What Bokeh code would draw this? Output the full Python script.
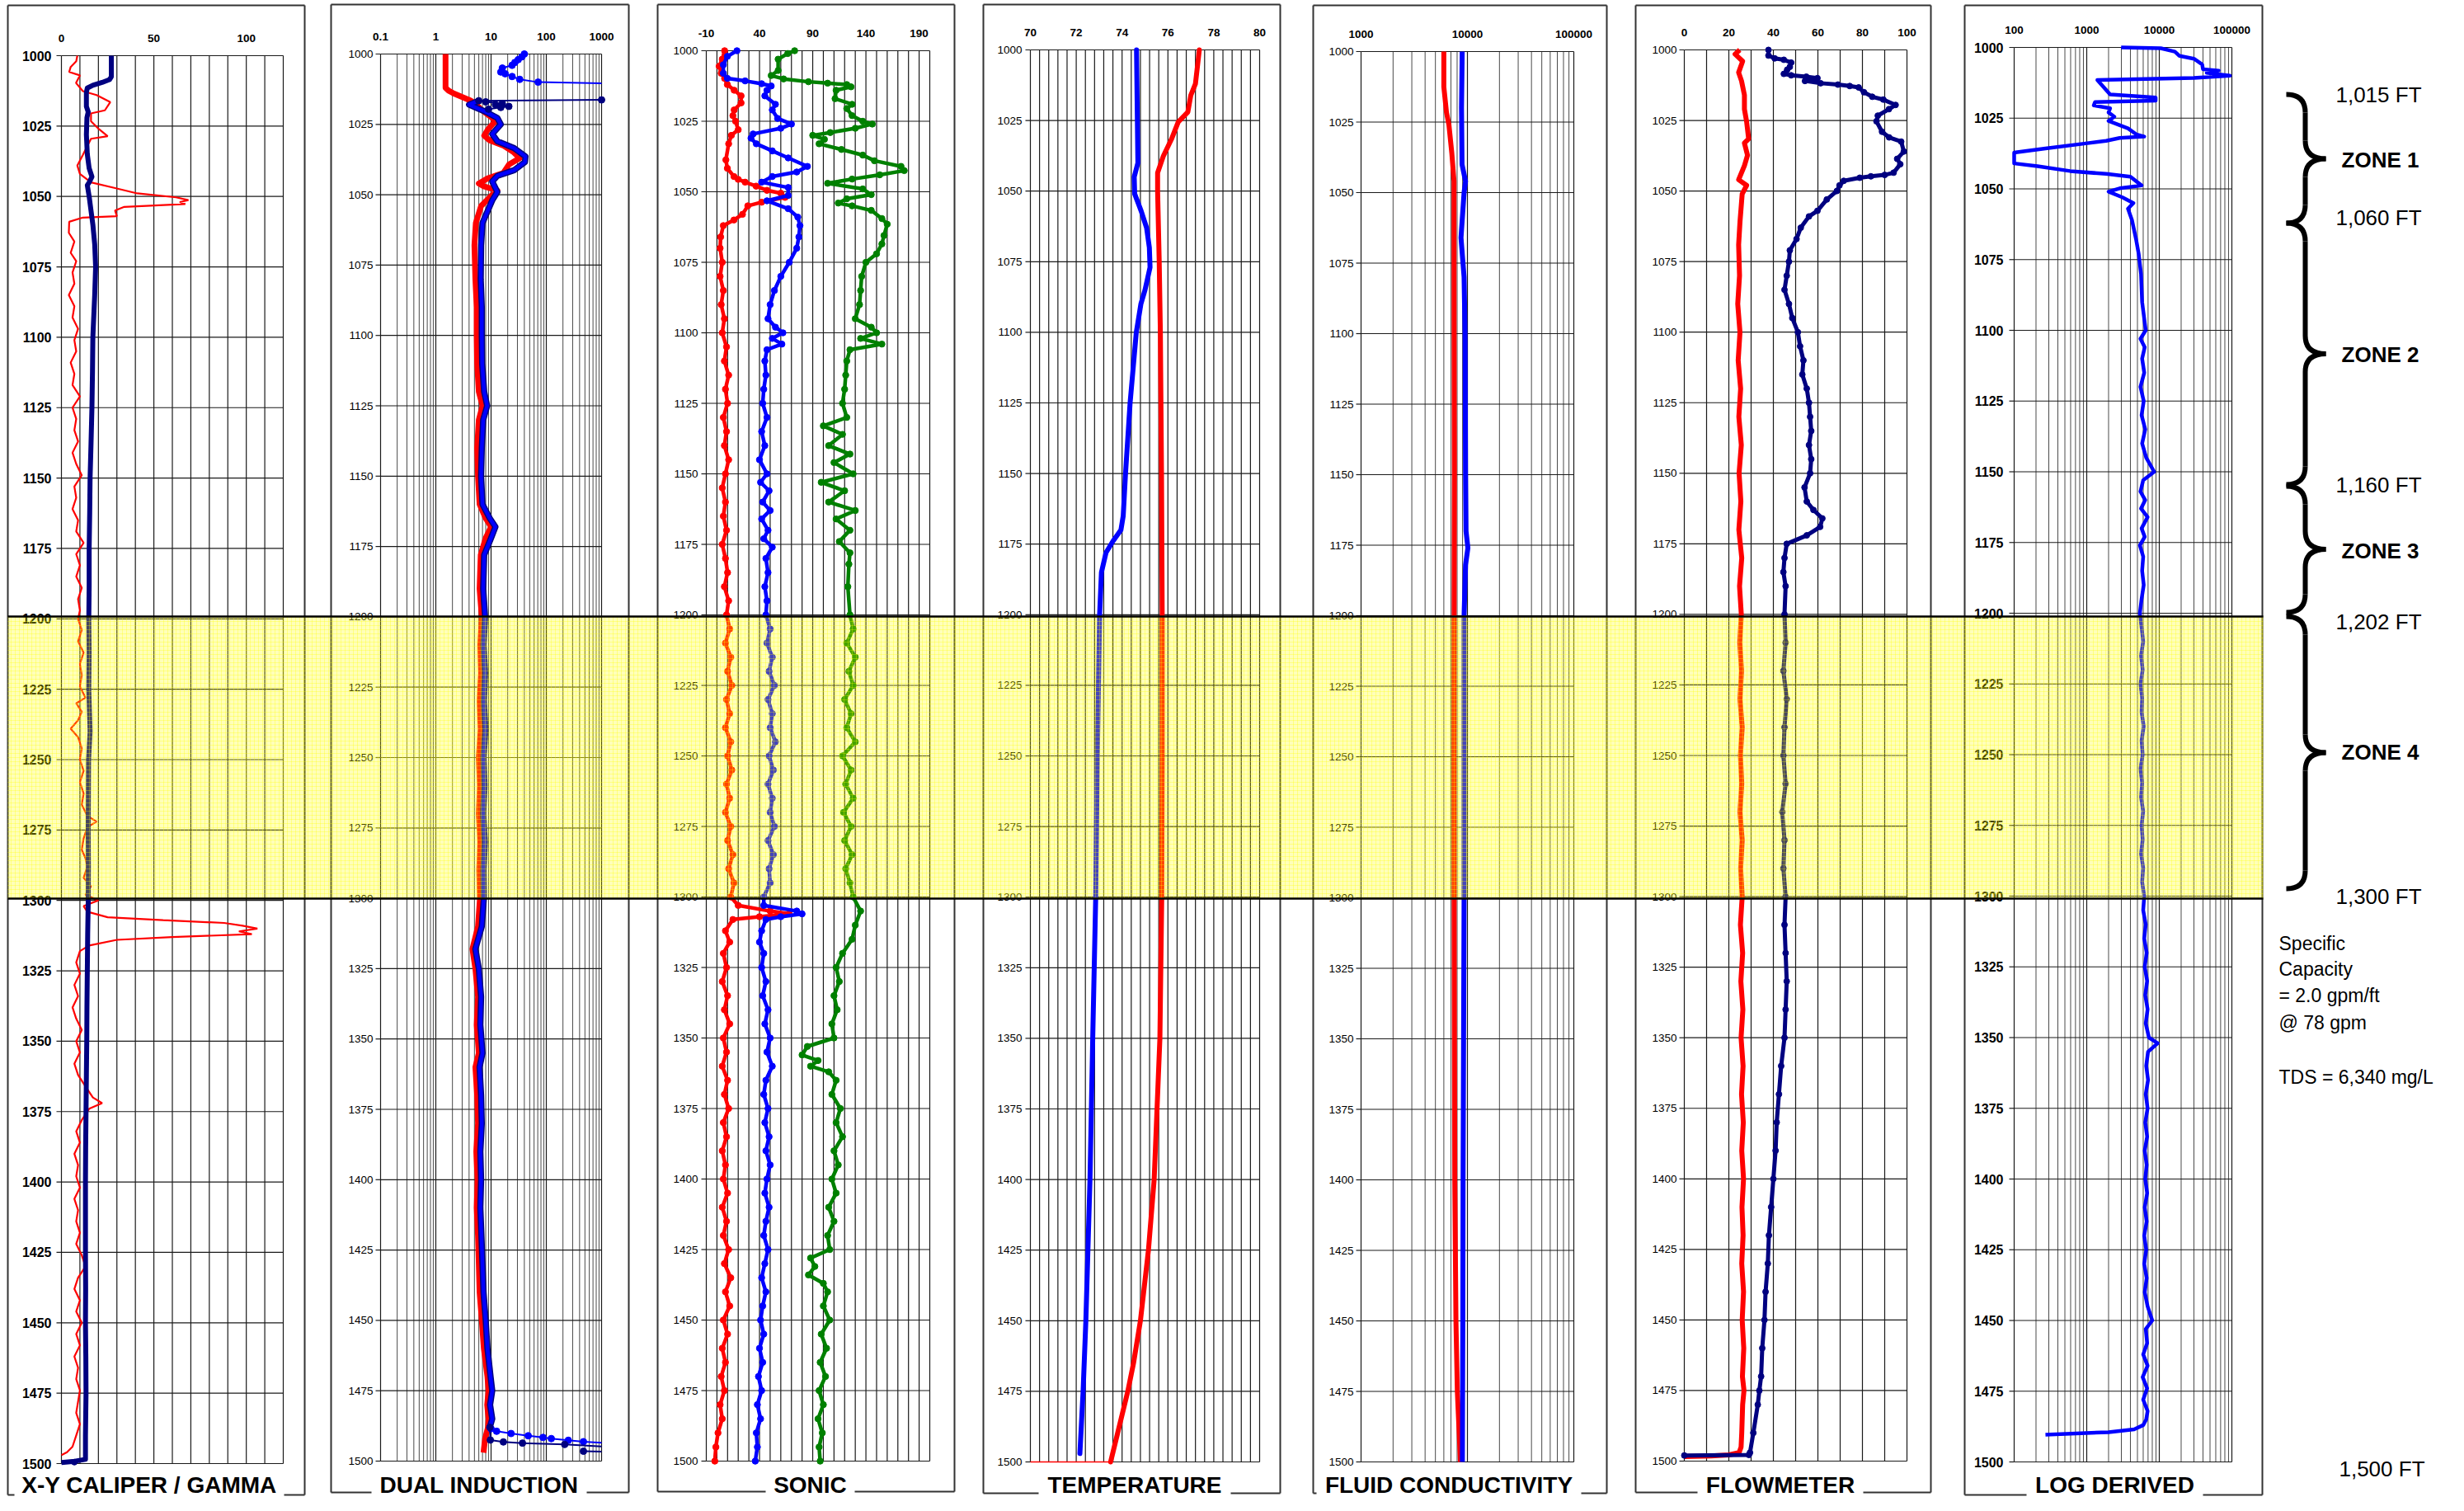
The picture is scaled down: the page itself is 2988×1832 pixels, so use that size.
import math
from bokeh.plotting import figure
from bokeh.models import Range1d, LinearScale
from bokeh.core.properties import value
from bokeh.embed import file_html
from bokeh.resources import INLINE

# ------------------------------------------------------------------ data
depth_ticks = list(range(1000, 1501, 25))
depth_tick_labels = [str(d) for d in depth_ticks]

track_titles = ["X-Y CALIPER / GAMMA", "DUAL INDUCTION", "SONIC", "TEMPERATURE",
                "FLUID CONDUCTIVITY", "FLOWMETER", "LOG DERIVED"]

cal_ticks = [0, 50, 100]
cal_tick_labels = ["0", "50", "100"]
ind_ticks = [0.1, 1, 10, 100, 1000]
ind_tick_labels = ["0.1", "1", "10", "100", "1000"]
son_ticks = [-10, 40, 90, 140, 190]
son_tick_labels = ["-10", "40", "90", "140", "190"]
tmp_ticks = [70, 72, 74, 76, 78, 80]
tmp_tick_labels = ["70", "72", "74", "76", "78", "80"]
fc_ticks = [1000, 10000, 100000]
fc_tick_labels = ["1000", "10000", "100000"]
flw_ticks = [0, 20, 40, 60, 80, 100]
flw_tick_labels = ["0", "20", "40", "60", "80", "100"]
ld_ticks = [100, 1000, 10000, 100000]
ld_tick_labels = ["100", "1000", "10000", "100000"]

# (depth ft, value) pairs
caliper = [(1000,27),(1007.5,27),(1008.5,26),(1009.5,22),(1010.5,17),(1011.5,14),(1013,13.5),(1018,13.5),
           (1020,14.5),(1022,13.8),(1028,13.5),(1035,14),(1040,15),(1043,16.5),(1045,15),(1046,14),(1050,15),
           (1055,16),(1060,17),(1067,18),(1075,18.5),(1085,18),(1100,17),(1112,16.8),(1125,16.5),(1138,16),
           (1150,15.5),(1162,15.3),(1175,15),(1188,15),(1200,14.8),(1212,15),(1225,14.8),(1240,15.5),(1250,14.7),
           (1262,14.6),(1275,14.5),(1288,14.6),(1300,14.5),(1312,14.2),(1325,14),(1338,13.8),(1350,13.7),
           (1362,13.5),(1375,13.3),(1388,13.1),(1400,13),(1412,13),(1425,13),(1438,13.1),(1450,13),(1462,13.2),
           (1475,13.3),(1490,13),(1498.5,13),(1499.3,6),(1499.6,0)]
gamma = [(1000,8.6),(1002,8),(1004,5),(1005.8,4.2),(1007,10),(1009.7,7.9),(1012.6,11.6),(1014,19),(1016.5,26.4),
         (1019.4,23.5),(1020.5,16),(1023.3,16),(1026.2,20.5),(1028.6,25),(1029.5,16),(1035.2,11.6),(1039,8.6),
         (1042,10),(1045,16),(1047,29),(1048.9,41),(1050.3,62),(1051.3,68.7),(1052,64),(1052.7,67),(1053.7,34),
         (1055,29),(1057,30),(1057.5,11.6),(1059,4.2),(1062.9,4),(1066,7),(1070,5),(1073,8),(1077,6),(1081,7),
         (1085,4),(1089,7),(1093,6),(1097,9),(1101,7),(1105,8),(1109,5),(1113,7),(1117,6),(1121,10),(1125,6),
         (1129,8),(1133,7),(1137,9),(1141,6),(1145,8),(1149,11),(1153,7),(1157,8),(1161,6),(1165,9),(1169,8),
         (1173,12),(1177,8),(1181,10),(1185,8),(1189,11),(1193,9),(1197,10),(1200,9),(1204,11),(1208,9),(1212,12),
         (1216,10),(1220,11),(1224,10),(1228,13),(1230,8),(1233,11),(1236,9),(1239,5),(1242,9),(1246,11),(1250,10),
         (1254,12),(1258,10),(1262,12),(1266,11),(1270,14),(1272,19),(1274,14),(1278,12),(1282,11),(1285,13),
         (1288,14),(1292,12),(1295,16),(1298,13),(1300,20),(1302,12),(1304,14),(1306,25),(1307,55),(1308,88),
         (1309,98),(1310,106),(1311,96),(1312,103),(1313,60),(1314,30),(1316,15),(1318,10),(1322,8),(1326,10),
         (1330,7),(1334,9),(1338,6),(1342,8),(1346,11),(1350,8),(1354,10),(1358,7),(1362,9),(1366,13),(1370,17),
         (1372,22),(1374,15),(1378,11),(1382,8),(1386,10),(1390,7),(1394,9),(1398,8),(1402,10),(1406,7),(1410,9),
         (1414,8),(1418,10),(1422,8),(1426,11),(1430,13),(1434,9),(1438,7),(1442,10),(1446,8),(1450,11),(1454,8),
         (1458,10),(1462,7),(1466,9),(1470,8),(1474,10),(1478,9),(1482,8),(1486,10),(1490,8),(1494,6),(1496,3),
         (1497,0)]

ind_deep = [(1000,1.5),(1012,1.5),(1013,1.7),(1014,2.1),(1016.5,4.2),(1017.8,5.3),(1019.7,6.6),(1022.7,10.5),
            (1024,11.8),(1026.6,8.9),(1029,7.5),(1030.6,9.3),(1032.5,16.6),(1035,26),(1037,33),(1039.3,21),
            (1042.3,16.6),(1044.3,8.4),(1046,6),(1047,7.4),(1048.5,13),(1050,10.5),(1054,6.6),(1060,5.3),
            (1068,5),(1080,5.2),(1090,5.5),(1100,5.5),(1110,5.6),(1120,6),(1125,7),(1130,6),(1140,5.6),(1150,5.8),
            (1160,6.2),(1165,8),(1168,10),(1172,8),(1178,6.5),(1190,6.2),(1200,6.8),(1210,6.4),(1220,6.6),
            (1230,6.2),(1240,6.5),(1250,6.0),(1260,6.3),(1270,6.0),(1280,6.4),(1290,6.1),(1300,6.3),(1310,5.8),
            (1318,4.6),(1325,5.2),(1335,5.8),(1345,5.5),(1355,6),(1360,5.2),(1370,5.6),(1380,5.8),(1390,5.4),
            (1400,5.7),(1410,5.5),(1420,5.8),(1430,6),(1440,6.2),(1450,6.8),(1460,7.4),(1470,8.6),(1475,9),
            (1480,8.5),(1485,9),(1488,8.8),(1492,7.8),(1497,7.3)]
ind_medium = [(1016.6,6),(1018,4),(1019.5,6),(1020.5,8),(1022.7,13),(1025,15),(1028.4,10.5),(1031,13),(1033.4,26),
              (1036.4,42),(1038.4,41),(1041.3,26),(1043.3,13),(1045.3,10.5),(1049,13),(1052,10.5),(1060,7),
              (1068,6.6),(1080,6.5),(1090,6.8),(1100,6.8),(1110,6.9),(1120,7.5),(1125,8.5),(1130,7.2),(1140,6.8),
              (1150,6.6),(1160,7),(1165,9.5),(1168,12),(1172,10),(1178,7.5),(1190,7.2),(1200,7.8),(1210,7.3),
              (1220,7.8),(1230,7.4),(1240,7.9),(1250,7.3),(1260,7.6),(1270,7.2),(1280,7.7),(1290,7.3),(1300,7.4),
              (1310,6.8),(1318,5.2),(1325,6.0),(1335,6.6),(1345,6.4),(1355,7),(1360,6.2),(1370,6.6),(1380,6.8),
              (1390,6.4),(1400,6.6),(1410,6.4),(1420,6.7),(1430,7),(1440,7.3),(1450,8),(1460,8.6),(1470,9.8),
              (1475,10.5),(1480,9.6),(1485,10.5),(1488,9.5)]
ind_shallow_top = [(1000,40),(1001,36),(1002,31),(1003,27),(1004,24),(1005,16),(1006.4,15),(1007,18),(1008,24),
                   (1009,33),(1010,71),(1010.4,1000)]
ind_shallow_top2 = [(1016.3,1000),(1016.6,6),(1017,8),(1017.6,16),(1018,12),(1018.6,21),(1019,15),(1019.6,9),
                    (1020.3,8)]
ind_shallow_bot = [(1488.5,10),(1489.4,12.6),(1490.2,23),(1491,47),(1491.6,87),(1492,123),(1492.6,250),
                   (1493.1,470),(1493.5,1000)]
ind_medium_bot = [(1488,9.5),(1492.5,9.7),(1493.2,16.7),(1493.6,37),(1494.1,215),(1494.8,1000)]
ind_medium_bot2 = [(1496.5,470),(1496.6,1000)]

son_red = [(1000,7.2),(1003,5),(1005.5,2.1),(1008,4),(1009.8,7.2),(1012,9.8),(1014,16.2),(1016,22.7),(1018.5,22.7),
           (1021,16.2),(1023,15),(1025,17.5),(1028,20),(1030,13.6),(1033,11),(1038.7,8.4),(1041.7,9.8),(1044.6,16),
           (1045.6,20),(1046.6,26.5),(1048,36.8),(1049.5,47),(1050.5,60),(1052,64),(1053.7,42),(1055,29),(1058,24),
           (1060,16),(1062,6),(1066,3.5),(1070,3),(1075,5),(1080,3),(1085,6),(1090,4),(1095,7),(1100,5),(1105,9),
           (1110,7),(1115,11),(1120,8),(1125,10),(1130,6),(1135,9),(1140,7),(1145,11),(1150,8),(1155,5),(1160,8),
           (1165,6),(1170,9),(1175,5),(1180,8),(1185,10),(1190,7),(1195,11),(1200,9),(1205,12),(1210,8),(1215,13),
           (1220,10),(1225,14),(1230,9),(1235,12),(1240,8),(1245,13),(1250,10),(1255,14),(1260,9),(1265,12),
           (1270,8),(1275,13),(1280,10),(1285,15),(1290,11),(1295,16),(1300,13),(1303,20),(1305,50),(1306,68),
           (1307,40),(1308,15),(1312,8),(1316,12),(1320,6),(1325,9),(1330,5),(1335,10),(1340,7),(1345,12),
           (1350,6),(1355,9),(1360,5),(1365,10),(1370,7),(1375,11),(1380,6),(1385,9),(1390,5),(1395,8),(1400,6),
           (1405,10),(1410,5),(1415,9),(1420,6),(1425,11),(1430,7),(1435,13),(1440,8),(1445,12),(1450,6),
           (1455,10),(1460,5),(1465,8),(1470,4),(1475,7),(1480,3),(1485,5),(1490,1),(1495,-1),(1500,-2)]
son_blue = [(1000,18.8),(1002,9.8),(1005,6),(1008,6),(1009.8,9.8),(1010.7,26.5),(1011.7,42),(1012.5,51),(1014,47),
            (1016,45),(1019,55),(1021,52),(1024,57),(1026,70),(1027.5,60),(1029.5,34),(1031,32),(1033,37),
            (1035.5,52),(1038,67),(1041,85),(1043,75),(1044.6,52),(1046.6,42),(1048.5,67),(1051.3,67),(1053.2,47),
            (1056,67),(1059,76),(1062,78),(1066,77),(1070,75),(1075,68),(1080,60),(1085,54),(1090,50),(1095,48),
            (1098,55),(1100,62),(1102,52),(1104,61),(1106,47),(1110,45),(1115,46),(1120,44),(1125,43),(1130,47),
            (1135,42),(1140,45),(1145,40),(1150,47),(1153,41),(1156,49),(1160,43),(1163,50),(1166,42),(1170,48),
            (1173,44),(1176,52),(1180,46),(1185,48),(1190,45),(1195,47),(1200,46),(1205,50),(1210,47),(1215,52),
            (1220,49),(1225,54),(1230,48),(1235,52),(1240,50),(1245,55),(1250,49),(1255,53),(1260,48),(1265,52),
            (1270,50),(1275,54),(1280,48),(1285,53),(1290,49),(1295,50),(1300,44),(1303,44),(1305,75),(1306,80),
            (1307,60),(1308,46),(1312,42),(1316,40),(1320,44),(1325,42),(1330,46),(1335,43),(1340,48),(1345,45),
            (1350,50),(1355,47),(1360,52),(1365,46),(1370,44),(1375,48),(1380,45),(1385,49),(1390,46),(1395,50),
            (1400,47),(1405,45),(1410,49),(1415,46),(1420,44),(1425,48),(1430,45),(1435,42),(1440,46),(1445,43),
            (1450,41),(1455,44),(1460,40),(1465,43),(1470,39),(1475,42),(1480,38),(1485,41),(1490,37),(1495,38),
            (1500,36)]
son_green = [(1000,73),(1001,66.5),(1003,57.5),(1007,57.5),(1008.8,51),(1010,62.6),(1011,86),(1011.5,104),(1012,122),
             (1012.8,126),(1014,112),(1017,111),(1019,127),(1020.5,122),(1023,127),(1025,137),(1026,146),
             (1027.5,130),(1029,106.5),(1030,90),(1031.4,101),(1033,96),(1035,117),(1037,137),(1039,148),(1041,173),
             (1042.5,176),(1044,153),(1045.5,127),(1047,104),(1049,137),(1051,145),(1052.5,122),(1054,114),(1055,127),
             (1056.6,145),(1059.5,155),(1061.5,160),(1065.5,157),(1068.5,155),(1072,150),(1075,140),(1080,136),
             (1085,135),(1090,134),(1095,130),(1098,145),(1100,150),(1102,135),(1104,155),(1106,125),(1110,122),
             (1115,121),(1120,120),(1125,118),(1130,122),(1133,100),(1136,118),(1140,105),(1143,125),(1146,110),
             (1150,128),(1153,98),(1156,120),(1160,105),(1163,130),(1166,112),(1170,125),(1174,115),(1178,125),
             (1182,124),(1190,123),(1200,125),(1205,128),(1210,122),(1215,130),(1220,124),(1225,128),(1230,120),
             (1235,126),(1240,122),(1245,130),(1250,118),(1255,126),(1260,121),(1265,128),(1270,119),(1275,126),
             (1280,120),(1285,127),(1290,121),(1295,125),(1300,128),(1305,135),(1310,130),(1315,127),(1320,118),
             (1325,112),(1330,115),(1335,110),(1340,113),(1345,108),(1350,110),(1353,85),(1356,80),(1358,95),
             (1360,88),(1362,105),(1365,112),(1370,108),(1375,116),(1380,112),(1385,118),(1390,110),(1395,114),
             (1400,108),(1405,112),(1410,105),(1415,110),(1420,104),(1425,106),(1428,88),(1431,92),(1434,86),
             (1437,100),(1440,104),(1445,100),(1450,106),(1455,98),(1460,103),(1465,97),(1470,102),(1475,96),
             (1480,100),(1485,95),(1490,99),(1495,96),(1500,97)]

temp_red = [(1000,77.37),(1012,77.2),(1016,77.0),(1022,76.87),(1025.5,76.45),(1031.7,76.15),(1037.6,75.8),
            (1043.5,75.55),(1050,75.55),(1075,75.62),(1100,75.67),(1150,75.72),(1200,75.75),(1250,75.75),
            (1300,75.73),(1350,75.65),(1400,75.4),(1425,75.15),(1450,74.8),(1465,74.5),(1475,74.25),(1480,74.1),
            (1490,73.8),(1500,73.5)]
temp_red_tail = [(1500,70.0),(1500,73.5)]
temp_blue = [(1000,74.63),(1040,74.69),(1045,74.53),(1051,74.55),(1057,74.83),(1063,75.07),(1070,75.19),(1077,75.22),
             (1085,75.0),(1090,74.82),(1100,74.62),(1125,74.35),(1150,74.15),(1165,74.05),(1170,73.95),(1174,73.6),
             (1178,73.3),(1185,73.1),(1200,73.02),(1250,72.92),(1300,72.85),(1350,72.72),(1400,72.6),(1450,72.42),
             (1475,72.3),(1497,72.16)]

fc_red = [(1000,6000),(1012.5,6000),(1021.5,6350),(1026,6700),(1036,7130),(1046,7480),(1066,7480),(1100,7500),
          (1150,7550),(1200,7500),(1250,7480),(1300,7500),(1350,7550),(1400,7600),(1450,7800),(1475,8040),
          (1500,8600)]
fc_blue = [(1000,8930),(1020,8800),(1040,8900),(1046,9600),(1050,9300),(1066,8700),(1080,9300),(1100,9500),
           (1150,9600),(1170,9700),(1176,10100),(1182,9600),(1200,9300),(1300,9300),(1400,9100),(1450,9050),
           (1500,8960)]

flow_red = [(1000,24.9),(1001.5,22.8),(1004,26.2),(1008,24.4),(1011,25.7),(1016,27),(1021,27),(1025.5,28),
            (1031.5,28.9),(1033,27),(1037.3,28.4),(1041,27),(1046,24.4),(1048,28),(1051,26),(1061,25),(1069,24.4),
            (1080,24.8),(1090,24),(1100,25),(1110,24.2),(1120,25.3),(1130,24.5),(1140,25.6),(1150,24.6),
            (1160,25.4),(1170,24.5),(1180,25.8),(1190,24.8),(1200,25.6),(1210,24.9),(1220,25.7),(1230,25),
            (1240,26),(1250,25.2),(1260,25.8),(1270,25),(1280,26),(1290,25.3),(1300,26),(1310,25.2),(1320,26.2),
            (1330,25.4),(1340,26.3),(1350,25.5),(1360,26.4),(1370,25.7),(1380,26.5),(1390,25.8),(1400,26.6),
            (1410,25.9),(1420,26.4),(1430,25.8),(1440,26.6),(1450,26.0),(1460,26.7),(1470,26.1),(1475,26.8),
            (1480,26.2),(1490,25.8),(1495,25.5),(1497,24.6),(1497.8,20),(1498.2,12),(1498.4,0)]
flow_navy = [(1000,37.8),(1002,37.8),(1003,40.6),(1003.5,44.7),(1004.5,48),(1006,47.4),(1007,46.2),(1008.5,44.7),
             (1009,48),(1009.5,54.8),(1010,59.8),(1011,54.2),(1011.8,61.2),(1012.3,69),(1012.8,74.3),(1013.3,78.3),
             (1015,80.7),(1016.6,84.4),(1017.6,89.4),(1019.5,94.9),(1021,91.9),(1023.3,86.9),(1025.3,86.3),
             (1029,88.8),(1031,92),(1032.5,97.4),(1036,98.6),(1038.6,95.6),(1040.5,97),(1043.5,94),(1044.3,90),
             (1044.8,83.8),(1045.3,78.8),(1046.4,71.6),(1048,69.7),(1050,68.5),(1053,64),(1057,59.8),(1059,56),
             (1063,52.3),(1067,50.4),(1071,47.4),(1075,47),(1080,46),(1085,45),(1090,47),(1095,48.5),(1100,51),
             (1105,52),(1110,53.5),(1115,53),(1120,55),(1125,56),(1130,56.5),(1135,57),(1140,56),(1145,57),
             (1150,56.5),(1155,54),(1160,55),(1163,58),(1166,62),(1169,61),(1172,55),(1175,46),(1180,45),
             (1185,44.5),(1190,45.5),(1200,45),(1210,45.5),(1220,44.5),(1230,46),(1240,45),(1250,44.5),(1260,45.5),
             (1270,44),(1280,45),(1290,44.5),(1300,45.5),(1310,45),(1320,45.5),(1330,46),(1340,45.5),(1350,45),
             (1360,43.5),(1370,42.5),(1380,41.5),(1390,41),(1400,40),(1410,39),(1420,38),(1430,37.5),(1440,36.5),
             (1450,36),(1460,35),(1470,34.5),(1475,33.7),(1480,33),(1490,31),(1497,29.5),(1497.8,29),(1498,0)]

log_derived = [(1000,2980),(1000.3,10500),(1001.5,16400),(1003,19000),(1004,30000),(1006,39000),(1007.7,40000),
               (1008.2,66000),(1009,45000),(1010,94000),(1010.8,30000),(1011.5,1400),(1016.6,2100),(1017.7,8900),
               (1018.8,8900),(1019.3,1300),(1020.5,1250),(1021.5,2100),(1023,2000),(1024.5,2400),(1026,2000),
               (1028.6,3700),(1030.7,4800),(1031.5,6200),(1032,2850),(1033,1850),(1034,920),(1035.7,270),
               (1037.2,100),(1041,100),(1042,210),(1043.7,590),(1044.7,1850),(1045.7,4000),(1048.8,5700),
               (1049.8,2850),(1051,2000),(1053,3100),(1055,4400),(1057,3700),(1061,4200),(1068,4800),(1073,5200),
               (1080,5600),(1090,5800),(1100,6500),(1103,5500),(1106,6300),(1110,5800),(1115,6200),(1120,5500),
               (1125,6100),(1130,5700),(1135,6400),(1140,5800),(1145,6600),(1150,8500),(1153,6000),(1157,5500),
               (1160,6400),(1163,5600),(1166,6900),(1170,5700),(1173,6300),(1176,5400),(1180,6000),(1185,5800),
               (1190,6100),(1195,5700),(1200,5400),(1205,5700),(1210,6000),(1215,5600),(1220,5900),(1225,5500),
               (1230,5800),(1235,5700),(1240,6100),(1245,5700),(1250,5900),(1255,5500),(1260,5800),(1265,5600),
               (1270,6000),(1275,5700),(1280,5900),(1285,5600),(1290,6000),(1295,5800),(1300,6200),(1305,6000),
               (1310,6500),(1315,6200),(1320,6700),(1325,6300),(1330,6800),(1335,6400),(1340,6900),(1345,6500),
               (1350,7200),(1352,9500),(1355,7000),(1360,6600),(1365,7000),(1370,6500),(1375,6900),(1380,6400),
               (1385,6800),(1390,6300),(1395,6700),(1400,6400),(1405,6800),(1410,6300),(1415,6700),(1420,6200),
               (1425,6600),(1430,6200),(1435,6700),(1440,6300),(1445,6900),(1450,8000),(1453,6500),(1458,6800),
               (1462,6000),(1466,6900),(1470,5900),(1474,6800),(1478,6000),(1482,6900),(1485,6600),(1487,6000),
               (1488.5,4500),(1489.5,2000),(1490,600),(1490.4,270)]

highlight_zone = (1200, 1300)
zone_names = ["ZONE 1", "ZONE 2", "ZONE 3", "ZONE 4"]
zone_bound_labels = ["1,015 FT", "1,060 FT", "1,160 FT", "1,202 FT", "1,300 FT"]
bottom_label = "1,500 FT"
note_lines = ["Specific", "Capacity", "= 2.0 gpm/ft", "@ 78 gpm"]
tds_line = "TDS = 6,340 mg/L"

# ------------------------------------------------------------------ layout (picture pixels)
FONT = value("Liberation Sans")
RED, BLUE, NAVY, GREEN = "#FF0000", "#0000FF", "#000080", "#008000"

panels = [
    dict(box=(9, 369, 6, 1812), grid=(74, 343, 67, 1774), xr=(0, 120), log=False, step=10,
         ticks=cal_ticks, tlab=cal_tick_labels, dls="16px", dlw="bold", dlo=12, gap=(17, 344)),
    dict(box=(401, 762, 5, 1809), grid=(461, 729, 65, 1771), xr=(0.1, 1000), log=True,
         ticks=ind_ticks, tlab=ind_tick_labels, dls="13.5px", dlw="normal", dlo=9, gap=(450, 711)),
    dict(box=(797, 1157, 5, 1808), grid=(856, 1127, 61, 1771), xr=(-10, 200), log=False, step=10,
         ticks=son_ticks, tlab=son_tick_labels, dls="13.5px", dlw="normal", dlo=10, gap=(928, 1036)),
    dict(box=(1192, 1552, 5, 1810), grid=(1249, 1527, 60, 1772), xr=(70, 80), log=False, step=0.4,
         ticks=tmp_ticks, tlab=tmp_tick_labels, dls="13.5px", dlw="normal", dlo=10, gap=(1259, 1492)),
    dict(box=(1592, 1948, 6, 1810), grid=(1650, 1908, 62, 1772), xr=(1000, 100000), log=True,
         ticks=fc_ticks, tlab=fc_tick_labels, dls="13.5px", dlw="normal", dlo=9, gap=(1596, 1917)),
    dict(box=(1983, 2341, 6, 1809), grid=(2042, 2312, 60, 1771), xr=(0, 100), log=False, step=10,
         ticks=flw_ticks, tlab=flw_tick_labels, dls="13.5px", dlw="normal", dlo=9, gap=(2058, 2259)),
    dict(box=(2382, 2743, 6, 1812), grid=(2442, 2706, 57, 1772), xr=(100, 100000), log=True,
         ticks=ld_ticks, tlab=ld_tick_labels, dls="16px", dlw="bold", dlo=13, gap=(2457, 2671)),
]
TITLE_Y = 1800   # vertical middle of the track titles

W, H = 2972, 1816
p = figure(width=W, height=H, x_range=Range1d(0, W), y_range=Range1d(H, 0),
           x_axis_location=None, y_axis_location=None, output_backend="svg",
           toolbar_location=None, min_border=0)
p.outline_line_color = None
p.grid.visible = False
p.background_fill_color = "white"
p.border_fill_color = "white"


def ident():
    return Range1d(0, 3000)


def mapping(xs, xt, ys, yt):
    kw = dict(x_source=xs, y_source=ys, x_target=xt, y_target=yt,
              x_scale=LinearScale(), y_scale=LinearScale())
    try:
        return p.subplot(**kw)
    except TypeError:
        from bokeh.models import CoordinateMapping
        from bokeh.plotting.glyph_api import GlyphAPI
        return GlyphAPI(p, CoordinateMapping(**kw))


def tx(P, vals):
    """position along the track axis (decades for logarithmic tracks)"""
    if P["log"]:
        return [math.log10(v) for v in vals]
    return list(vals)


def grid_values(P):
    a, b = P["xr"]
    if P["log"]:
        vals = []
        for n in range(int(math.floor(math.log10(a) + 1e-9)), int(math.ceil(math.log10(b) - 1e-9))):
            for k in range(1, 10):
                vals.append(k * 10.0 ** n)
        vals.append(b)
        major = [v for v in vals if abs(math.log10(v) - round(math.log10(v))) < 1e-9]
        minor = [v for v in vals if v not in major]
        return major, minor
    n = int(round((b - a) / P["step"]))
    return [round(a + i * P["step"], 6) for i in range(n + 1)], []


def unzip(data):
    return [t[1] for t in data], [t[0] for t in data]


subs = []
for P in panels:
    gl, gr, gt, gb = P["grid"]
    xr = tx(P, P["xr"])
    sp = mapping(Range1d(*xr), Range1d(gl, gr), Range1d(1000, 1500), Range1d(gt, gb))
    sd = mapping(ident(), ident(), Range1d(1000, 1500), Range1d(gt, gb))
    st = mapping(Range1d(*xr), Range1d(gl, gr), ident(), ident())
    subs.append((sp, P))
    major, minor = grid_values(P)
    if minor:
        sp.segment(x0=tx(P, minor), y0=1000, x1=tx(P, minor), y1=1500, line_color="#4a4a4a", line_width=1)
    sp.segment(x0=tx(P, major), y0=1000, x1=tx(P, major), y1=1500, line_color="#1a1a1a", line_width=1.2)
    sd.segment(x0=gl, x1=gr, y0=depth_ticks, y1=depth_ticks, line_color="#1a1a1a", line_width=1.2)
    sd.segment(x0=gl - 6, x1=gl, y0=depth_ticks, y1=depth_ticks, line_color="#1a1a1a", line_width=1.2)
    sd.text(x=gl - P["dlo"], y=depth_ticks, text=depth_tick_labels, text_font=FONT,
            text_font_size=P["dls"], text_font_style=P["dlw"], text_align="right",
            text_baseline="middle", text_color="black")
    st.text(x=tx(P, P["ticks"]), y=gt - 21, text=P["tlab"], text_font=FONT, text_font_size="13.5px",
            text_font_style="bold", text_align="center", text_baseline="middle", text_color="black")


def draw_line(k, data, **kw):
    sp, P = subs[k]
    v, d = unzip(data)
    sp.line(tx(P, v), d, **kw)


def draw_dots(k, data, skip_last=False, **kw):
    sp, P = subs[k]
    v, d = unzip(data)
    if skip_last:
        v, d = v[:-1], d[:-1]
    sp.scatter(tx(P, v), d, **kw)


# track 1: caliper / gamma
draw_line(0, gamma, line_color=RED, line_width=2.2)
draw_line(0, caliper, line_color=NAVY, line_width=6, line_join="round")
draw_dots(0, [(1499.5, 7)], size=7, color=NAVY)

# track 2: dual induction
draw_line(1, ind_deep, line_color=RED, line_width=7, line_join="round")
draw_line(1, ind_medium, line_color=NAVY, line_width=7.5, line_join="round")
draw_line(1, ind_medium, line_color=BLUE, line_width=4.5, line_join="round")
for ser, col in ((ind_shallow_top, BLUE), (ind_shallow_top2, NAVY), (ind_shallow_bot, BLUE),
                 (ind_medium_bot, NAVY), (ind_medium_bot2, NAVY)):
    draw_line(1, ser, line_color=col, line_width=2)
    draw_dots(1, ser, skip_last=True, size=8, color=col)

# track 3: sonic
for ser, col in ((son_red, RED), (son_blue, BLUE), (son_green, GREEN)):
    draw_line(2, ser, line_color=col, line_width=4.5, line_join="round")
    draw_dots(2, ser, size=7.5, color=col)

# track 4: temperature
draw_line(3, temp_red_tail, line_color=RED, line_width=1.5)
draw_line(3, temp_red, line_color=RED, line_width=6, line_join="round", line_cap="round")
draw_line(3, temp_blue, line_color=BLUE, line_width=6, line_join="round", line_cap="round")

# track 5: fluid conductivity
draw_line(4, fc_red, line_color=RED, line_width=6, line_join="round")
draw_line(4, fc_blue, line_color=BLUE, line_width=6, line_join="round")

# track 6: flowmeter
draw_line(5, flow_red, line_color=RED, line_width=6, line_join="round")
draw_line(5, flow_navy, line_color=NAVY, line_width=5, line_join="round")
draw_dots(5, flow_navy, size=7, color=NAVY)

# track 7: log derived
draw_line(6, log_derived, line_color=BLUE, line_width=4.5, line_join="round")

# track boxes and titles
for P, title in zip(panels, track_titles):
    bl, br, bt, bb = P["box"]
    g0, g1 = P["gap"]
    p.segment(x0=[bl, br, bl, bl, g1], y0=[bt, bt, bt, bb, bb],
              x1=[bl, br, br, g0, br], y1=[bb, bb, bt, bb, bb],
              line_color="#333333", line_width=2)
    p.text(x=[(g0 + g1) / 2], y=[TITLE_Y], text=[title], text_font=FONT, text_font_size="28px",
           text_font_style="bold", text_align="center", text_baseline="middle", text_color="black")

# highlighted production zone (drawn on top, semi-transparent)
sb = mapping(ident(), ident(), Range1d(1000, 1500), Range1d(63, 1773))
sb.quad(left=9, right=2744, top=highlight_zone[0], bottom=highlight_zone[1], fill_color="#FFFF00",
        fill_alpha=0.27, line_color=None, hatch_pattern="+", hatch_color="#FFFF00",
        hatch_alpha=0.3, hatch_scale=5, hatch_weight=1)
sb.segment(x0=9, x1=2744, y0=list(highlight_zone), y1=list(highlight_zone), line_color="black", line_width=2.5)

# zone braces
brace_spans = [(114, 270), (270, 587), (589, 742), (747, 1077)]
XL, XS, XT, R = 2772, 2795, 2820, 22
for (y0, y1) in brace_spans:
    ym = (y0 + y1) / 2
    p.quadratic(x0=[XL, XS, XT, XS], y0=[y0, ym - R, ym, y1 - R],
                x1=[XS, XT, XS, XL], y1=[y0 + R, ym, ym + R, y1],
                cx=[XS, XS, XS, XS], cy=[y0, ym, ym, y1], line_color="black", line_width=6)
    p.segment(x0=[XS, XS], y0=[y0 + R, ym + R], x1=[XS, XS], y1=[ym - R, y1 - R],
              line_color="black", line_width=6)

p.text(x=2884, y=[114, 263, 587, 753, 1086], text=zone_bound_labels, text_font=FONT, text_font_size="26px",
       text_align="center", text_baseline="middle", text_color="black")
p.text(x=2886, y=[193, 429, 667, 911], text=zone_names, text_font=FONT, text_font_size="26px",
       text_font_style="bold", text_align="center", text_baseline="middle", text_color="black")
p.text(x=2888, y=[1780], text=[bottom_label], text_font=FONT, text_font_size="26px",
       text_align="center", text_baseline="middle", text_color="black")
p.text(x=2763, y=[1143, 1174, 1206, 1239, 1305], text=note_lines + [tds_line], text_font=FONT,
       text_font_size="23px", text_align="left", text_baseline="middle", text_color="black")

open("out.html", "w").write(file_html(p, INLINE))
